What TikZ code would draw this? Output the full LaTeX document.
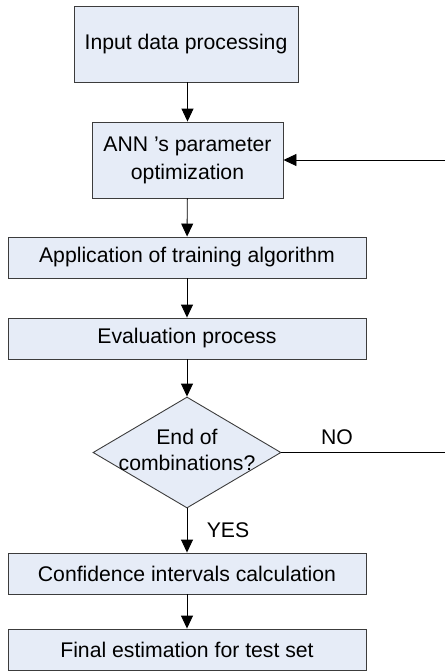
\documentclass[tikz,border=0pt]{standalone}
\usepackage{fontspec}
\setmainfont{Liberation Sans}
\usetikzlibrary{shapes.geometric,arrows.meta}
\definecolor{boxfill}{RGB}{230,236,247}
\definecolor{boxline}{RGB}{60,60,60}
\begin{document}
\begin{tikzpicture}[x=1pt,y=-1pt,
  procbox/.style={draw=boxline,fill=boxfill,line width=0.9pt,inner sep=0pt,align=center,
    font=\fontsize{21.2}{28}\selectfont},
  decbox/.style={draw=boxline,fill=boxfill,line width=0.9pt,shape=diamond,inner sep=0pt,
    minimum width=188pt,minimum height=111pt},
  lbl/.style={font=\fontsize{21.2}{26}\selectfont,align=center,inner sep=0pt},
  conn/.style={line width=0.9pt,-{Triangle[length=13pt,width=12pt]}},
  plain/.style={line width=0.9pt}]
\useasboundingbox (0,0) rectangle (445,672);
\node[procbox,minimum width=224pt,minimum height=76pt] (b1) at (186,44) {Input data processing};
\node[procbox,minimum width=191pt,minimum height=76pt] (b2) at (187.5,160) {ANN 's parameter\\optimization};
\node[procbox,minimum width=358pt,minimum height=41pt] (b3) at (187,257.5) {Application of training algorithm};
\node[procbox,minimum width=358pt,minimum height=41pt] (b4) at (187,338.5) {Evaluation process};
\node[decbox] (d) at (187,452.5) {};
\node[lbl] (dt) at (187,450) {End of\\combinations?};
\node[procbox,minimum width=358pt,minimum height=41pt] (b5) at (187,573.5) {Confidence intervals calculation};
\node[procbox,minimum width=358pt,minimum height=41pt] (b6) at (187,649.5) {Final estimation for test set};
\node[lbl] (no) at (337,437) {NO};
\node[lbl] (yes) at (228,530) {YES};
\coordinate (fb) at (445,160);
\coordinate (nb) at (445,452.5);
\draw[conn] (b1.south -| b2.north) -- (b2.north);
\draw[conn] (b2) -- (b3);
\draw[conn] (b3) -- (b4);
\draw[conn] (b4) -- (d.north);
\draw[conn] (d.south) -- (b5.north);
\draw[conn] (b5) -- (b6);
\draw[conn] (fb) -- (b2.east);
\draw[plain] (d.east) -- (nb);
\end{tikzpicture}
\end{document}
